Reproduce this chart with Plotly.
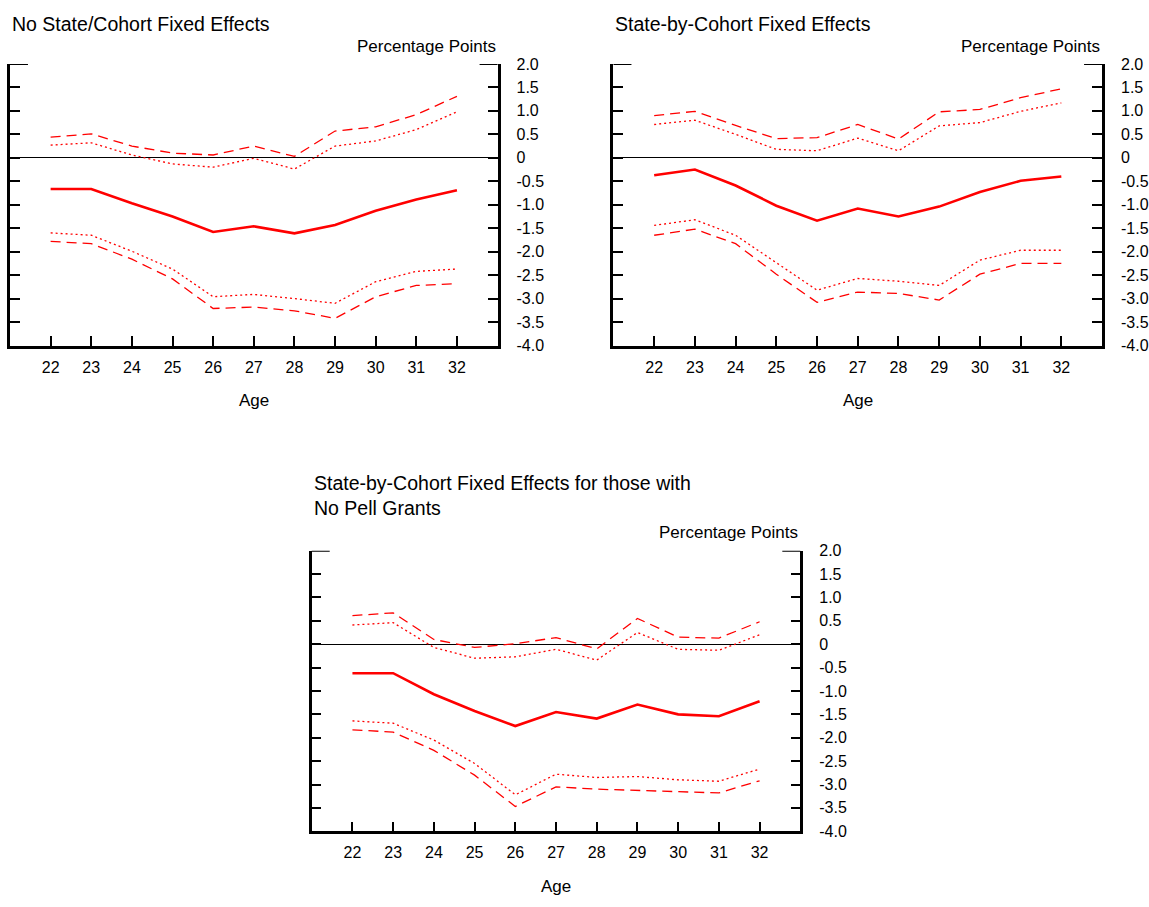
import plotly.graph_objects as go

ages = [22, 23, 24, 25, 26, 27, 28, 29, 30, 31, 32]

# Panel 1: No State/Cohort Fixed Effects
p1_est = [-0.665, -0.665, -0.97, -1.25, -1.58, -1.46, -1.61, -1.43, -1.13, -0.89, -0.69]
p1_up95 = [0.44, 0.51, 0.25, 0.10, 0.06, 0.25, 0.03, 0.57, 0.66, 0.92, 1.31]
p1_up90 = [0.27, 0.32, 0.06, -0.13, -0.20, -0.01, -0.24, 0.25, 0.36, 0.60, 0.98]
p1_lo90 = [-1.60, -1.65, -1.99, -2.37, -2.96, -2.91, -3.00, -3.10, -2.64, -2.42, -2.37]
p1_lo95 = [-1.78, -1.83, -2.16, -2.58, -3.21, -3.18, -3.26, -3.42, -2.96, -2.72, -2.68]

# Panel 2: State-by-Cohort Fixed Effects
p2_est = [-0.37, -0.25, -0.59, -1.02, -1.34, -1.08, -1.25, -1.04, -0.73, -0.49, -0.40]
p2_up95 = [0.90, 0.99, 0.69, 0.41, 0.43, 0.71, 0.40, 0.98, 1.03, 1.28, 1.47]
p2_up90 = [0.71, 0.80, 0.50, 0.18, 0.15, 0.42, 0.15, 0.68, 0.75, 0.99, 1.17]
p2_lo90 = [-1.44, -1.32, -1.65, -2.23, -2.82, -2.57, -2.63, -2.72, -2.18, -1.97, -1.97]
p2_lo95 = [-1.65, -1.52, -1.83, -2.48, -3.08, -2.86, -2.89, -3.03, -2.48, -2.25, -2.25]

# Panel 3: State-by-Cohort Fixed Effects, No Pell Grants
p3_est = [-0.62, -0.62, -1.07, -1.43, -1.75, -1.45, -1.59, -1.29, -1.50, -1.54, -1.22]
p3_up95 = [0.61, 0.67, 0.10, -0.07, 0.01, 0.14, -0.10, 0.55, 0.15, 0.13, 0.48]
p3_up90 = [0.41, 0.46, -0.07, -0.30, -0.27, -0.11, -0.34, 0.25, -0.11, -0.13, 0.20]
p3_lo90 = [-1.64, -1.69, -2.05, -2.55, -3.22, -2.78, -2.85, -2.83, -2.90, -2.93, -2.67]
p3_lo95 = [-1.83, -1.88, -2.27, -2.80, -3.47, -3.05, -3.10, -3.13, -3.15, -3.18, -2.92]

ytickvals = [2.0, 1.5, 1.0, 0.5, 0.0, -0.5, -1.0, -1.5, -2.0, -2.5, -3.0, -3.5, -4.0]
yticktext = ["2.0", "1.5", "1.0", "0.5", "0", "-0.5", "-1.0", "-1.5", "-2.0", "-2.5", "-3.0", "-3.5", "-4.0"]

titles = ["No State/Cohort Fixed Effects",
          "State-by-Cohort Fixed Effects",
          "State-by-Cohort Fixed Effects for those with<br>No Pell Grants"]

W, H = 1149, 907
RED = "#ff0000"
FONT = "Liberation Sans, Arial, sans-serif"

# panel boxes in pixels: left, right, top, bottom
boxes = [(10, 498, 57, 344), (614, 1103, 57, 344), (312, 801, 553, 839)]
title_y = [16, 16, 497]
pp_y = [39, 39, 535]
age_y = [400, 400, 895]
panels = [
    (p1_est, p1_up95, p1_up90, p1_lo90, p1_lo95),
    (p2_est, p2_up95, p2_up90, p2_lo90, p2_lo95),
    (p3_est, p3_up95, p3_up90, p3_lo90, p3_lo95),
]

fig = go.Figure()
annotations = []
shapes = []

def px(x):
    return x / W

def py(y):
    return 1 - y / H

for i, (box, data) in enumerate(zip(boxes, panels)):
    n = "" if i == 0 else str(i + 1)
    xa, ya = "x" + n, "y" + n
    est, up95, up90, lo90, lo95 = data
    for series, style in [(up95, dict(width=1.3, dash="10px,6px")),
                          (up90, dict(width=1.3, dash="2px,3px")),
                          (lo90, dict(width=1.3, dash="2px,3px")),
                          (lo95, dict(width=1.3, dash="10px,6px")),
                          (est, dict(width=2.6))]:
        fig.add_trace(go.Scatter(x=ages, y=series, mode="lines", xaxis=xa, yaxis=ya,
                                 line=dict(color=RED, **style), showlegend=False,
                                 hoverinfo="skip"))
    l, r, t, b = box
    fig.layout["xaxis" + n] = dict(
        domain=[px(l), px(r)], anchor=ya, range=[21, 33],
        tickvals=ages, ticks="inside", ticklen=10, tickwidth=2, tickcolor="black",
        showline=True, linewidth=2.5, linecolor="black", showgrid=False, zeroline=False,
        tickfont=dict(family=FONT, size=16, color="black"), ticklabelstandoff=5,
    )
    fig.layout["yaxis" + n] = dict(
        domain=[py(b), py(t)], anchor=xa, range=[-4, 2], side="right",
        tickvals=ytickvals, ticktext=yticktext, ticks="inside", ticklen=10, tickwidth=2,
        tickcolor="black", showline=True, linewidth=2.5, linecolor="black", mirror="ticks",
        showgrid=False, zeroline=True, zerolinecolor="black", zerolinewidth=1,
        tickfont=dict(family=FONT, size=16, color="black"), ticklabelstandoff=13,
    )
    # longer top cap segments on both vertical axes
    cap = 18 / (r - l)
    for x0, x1 in [(0, cap), (1 - cap, 1)]:
        shapes.append(dict(type="line", xref=xa + " domain", yref=ya, x0=x0, x1=x1, y0=2, y1=2,
                           line=dict(color="black", width=2)))
    annotations.append(dict(text=titles[i], x=px(l), y=py(title_y[i]), xref="paper", yref="paper",
                            xanchor="left", yanchor="middle", showarrow=False, align="left",
                            font=dict(family=FONT, size=19.5, color="black")))
    annotations.append(dict(text="Percentage Points", x=px(r), y=py(pp_y[i]), xref="paper", yref="paper",
                            xanchor="right", yanchor="middle", showarrow=False,
                            font=dict(family=FONT, size=17, color="black")))
    annotations.append(dict(text="Age", x=px((l + r) / 2), y=py(age_y[i]), xref="paper", yref="paper",
                            xanchor="center", yanchor="middle", showarrow=False,
                            font=dict(family=FONT, size=17, color="black")))

fig.update_layout(width=W, height=H, margin=dict(l=0, r=0, t=0, b=0),
                  paper_bgcolor="white", plot_bgcolor="white",
                  annotations=annotations, shapes=shapes)

fig.write_html("out.html")
